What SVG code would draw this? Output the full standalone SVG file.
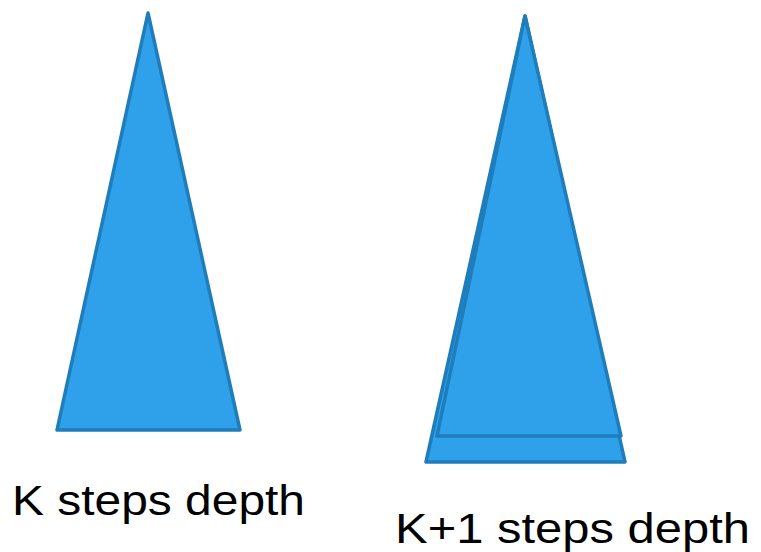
<svg xmlns="http://www.w3.org/2000/svg" width="761" height="552" viewBox="0 0 761 552">
<style>
.tri{fill:#2EA1EA;stroke:#1F7DBC;stroke-width:3.5;stroke-linejoin:round}
.lbl{font-family:"Liberation Sans","DejaVu Sans",sans-serif;font-size:42px;fill:#000}
</style>
<rect width="761" height="552" fill="#fff"/>
<g id="tri-k">
<polygon class="tri" points="148,13 57,430 240,430"/>
</g>
<g id="tri-k1">
<polygon class="tri" points="525,16 426,462 625,462"/>
<polygon class="tri" points="525,16 437,436 621,436"/>
</g>
<g id="label-k">
<text class="lbl" x="12" y="515" textLength="293" lengthAdjust="spacingAndGlyphs">K steps depth</text>
</g>
<g id="label-k1">
<text class="lbl" x="395" y="543" textLength="355" lengthAdjust="spacingAndGlyphs">K+1 steps depth</text>
</g>
</svg>
